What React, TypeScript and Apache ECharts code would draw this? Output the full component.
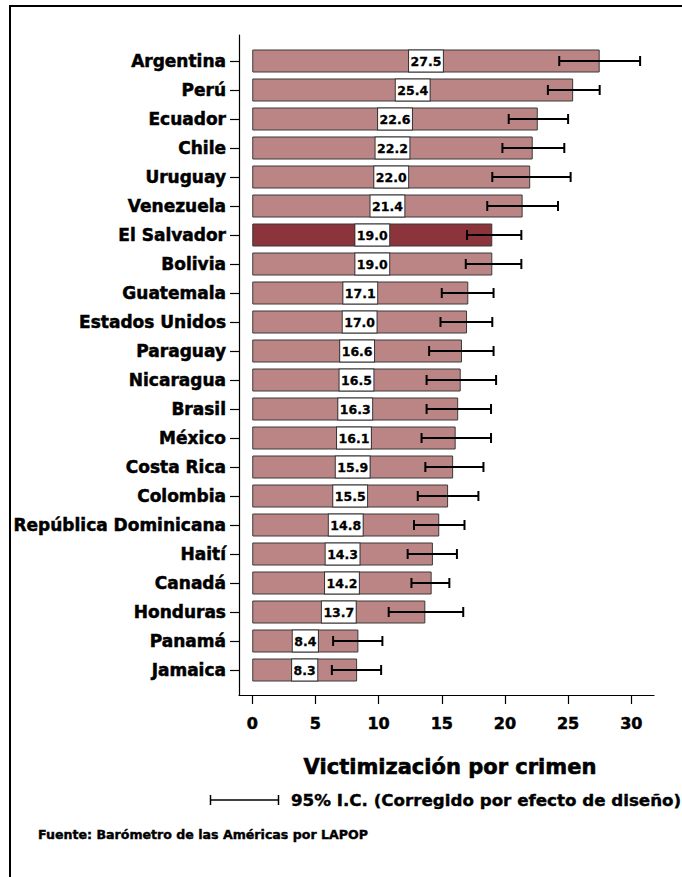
import React, { useEffect, useRef } from "react";
import * as echarts from "echarts";

const countries: string[] = [
  "Argentina", "Perú", "Ecuador", "Chile", "Uruguay", "Venezuela", "El Salvador",
  "Bolivia", "Guatemala", "Estados Unidos", "Paraguay", "Nicaragua", "Brasil",
  "México", "Costa Rica", "Colombia", "República Dominicana", "Haití", "Canadá",
  "Honduras", "Panamá", "Jamaica",
];
const values: number[] = [
  27.5, 25.4, 22.6, 22.2, 22.0, 21.4, 19.0, 19.0, 17.1, 17.0, 16.6, 16.5, 16.3,
  16.1, 15.9, 15.5, 14.8, 14.3, 14.2, 13.7, 8.4, 8.3,
];
const ciLow: number[] = [
  24.3, 23.4, 20.3, 19.8, 19.0, 18.6, 17.0, 16.9, 15.0, 14.9, 14.0, 13.8, 13.8,
  13.4, 13.7, 13.1, 12.8, 12.3, 12.6, 10.8, 6.4, 6.3,
];
const ciHigh: number[] = [
  30.7, 27.5, 25.0, 24.7, 25.2, 24.2, 21.3, 21.3, 19.1, 19.0, 19.1, 19.3, 18.9,
  18.9, 18.3, 17.9, 16.8, 16.2, 15.6, 16.7, 10.3, 10.2,
];
const xTicks: number[] = [0, 5, 10, 15, 20, 25, 30];
const highlighted = "El Salvador";

const FONT = "DejaVu Sans";

export default function App() {
  const ref = useRef<HTMLDivElement>(null);
  useEffect(() => {
    if (!ref.current) return;
    const chart = echarts.init(ref.current, null, { renderer: "svg" });
    const xMin = -1.05;
    const xMax = 31.8;
    const heavy = { textBorderColor: "#000", textBorderWidth: 0.5 };
    chart.setOption({
      animation: false,
      textStyle: { fontFamily: FONT },
      grid: [
        { left: 239, top: 46.5, width: 415, height: 638 },
        { left: 239, top: 35, width: 415, height: 660 },
      ],
      xAxis: [
        { type: "value", gridIndex: 0, min: xMin, max: xMax, show: false },
        {
          type: "value",
          gridIndex: 1,
          min: xMin,
          max: xMax,
          axisLine: { show: true, onZero: false, lineStyle: { color: "#000", width: 1.2 } },
          axisTick: { show: true, customValues: xTicks, length: 9, lineStyle: { color: "#000", width: 1.2 } },
          axisLabel: {
            customValues: xTicks,
            fontFamily: FONT,
            fontWeight: "bold",
            fontSize: 16,
            color: "#000",
            margin: 20,
            ...heavy,
          },
          splitLine: { show: false },
        },
      ],
      yAxis: [
        {
          type: "category",
          gridIndex: 0,
          data: countries,
          inverse: true,
          axisLine: { show: false, onZero: false },
          axisTick: { show: true, alignWithLabel: true, length: 9, lineStyle: { color: "#000", width: 1.2 } },
          axisLabel: {
            fontFamily: FONT,
            fontWeight: "bold",
            fontSize: 17,
            color: "#000",
            margin: 13,
            ...heavy,
          },
          splitLine: { show: false },
        },
        {
          type: "value",
          gridIndex: 1,
          min: 0,
          max: 1,
          axisLine: { show: true, onZero: false, lineStyle: { color: "#000", width: 1.2 } },
          axisTick: { show: false },
          axisLabel: { show: false },
          splitLine: { show: false },
        },
      ],
      series: [
        {
          type: "bar",
          xAxisIndex: 0,
          yAxisIndex: 0,
          barWidth: 23,
          data: values.map((v, i) => ({
            value: v,
            itemStyle: {
              color: countries[i] === highlighted ? "#8C343B" : "#BC8585",
            },
          })),
          itemStyle: { borderColor: "#3a3a3a", borderWidth: 1 },
          label: {
            show: true,
            position: "inside",
            formatter: (p: any) => Number(p.value).toFixed(1),
            fontFamily: FONT,
            fontWeight: "bold",
            fontSize: 12.5,
            lineHeight: 13,
            color: "#000",
            backgroundColor: "#fff",
            borderColor: "#333",
            borderWidth: 1,
            padding: [4, 1.5, 4, 1.5],
            textBorderColor: "#000",
            textBorderWidth: 0.3,
          },
          z: 2,
        },
        {
          type: "custom",
          xAxisIndex: 0,
          yAxisIndex: 0,
          data: countries.map((_, i) => [i, ciLow[i], ciHigh[i]]),
          encode: { y: 0, x: [1, 2] },
          z: 3,
          renderItem: (params: any, api: any) => {
            const idx = api.value(0);
            const lo = api.coord([api.value(1), idx]);
            const hi = api.coord([api.value(2), idx]);
            const h = 5;
            const style = { stroke: "#000", lineWidth: 2 };
            return {
              type: "group",
              children: [
                { type: "line", shape: { x1: lo[0], y1: lo[1], x2: hi[0], y2: hi[1] }, style },
                { type: "line", shape: { x1: lo[0], y1: lo[1] - h, x2: lo[0], y2: lo[1] + h }, style },
                { type: "line", shape: { x1: hi[0], y1: hi[1] - h, x2: hi[0], y2: hi[1] + h }, style },
              ],
            };
          },
        },
      ],
      graphic: [
        { type: "line", shape: { x1: 9, y1: 6, x2: 682, y2: 6 }, style: { stroke: "#000", lineWidth: 2 } },
        { type: "line", shape: { x1: 10, y1: 5, x2: 10, y2: 877 }, style: { stroke: "#000", lineWidth: 2 } },
        {
          type: "text",
          x: 450,
          y: 767,
          style: {
            text: "Victimización por crimen",
            font: `bold 21px "${FONT}"`,
            fill: "#000",
            stroke: "#000",
            lineWidth: 0.6,
            textAlign: "center",
            textVerticalAlign: "middle",
          },
        },
        { type: "line", shape: { x1: 210, y1: 800, x2: 279, y2: 800 }, style: { stroke: "#000", lineWidth: 1.5 } },
        { type: "line", shape: { x1: 210.5, y1: 795, x2: 210.5, y2: 805 }, style: { stroke: "#000", lineWidth: 1.5 } },
        { type: "line", shape: { x1: 278.5, y1: 795, x2: 278.5, y2: 805 }, style: { stroke: "#000", lineWidth: 1.5 } },
        {
          type: "text",
          x: 291,
          y: 800,
          style: {
            text: "95% I.C. (Corregido por efecto de diseño)",
            font: `bold 16.7px "${FONT}"`,
            fill: "#000",
            stroke: "#000",
            lineWidth: 0.4,
            textAlign: "left",
            textVerticalAlign: "middle",
          },
        },
        {
          type: "text",
          x: 38,
          y: 834,
          style: {
            text: "Fuente: Barómetro de las Américas por LAPOP",
            font: `bold 12.6px "${FONT}"`,
            fill: "#000",
            stroke: "#000",
            lineWidth: 0.4,
            textAlign: "left",
            textVerticalAlign: "middle",
          },
        },
      ],
    });
    return () => chart.dispose();
  }, []);
  return (
    <div
      ref={ref}
      style={{ position: "fixed", left: 0, top: 0, width: 682, height: 877, background: "#fff" }}
    />
  );
}
